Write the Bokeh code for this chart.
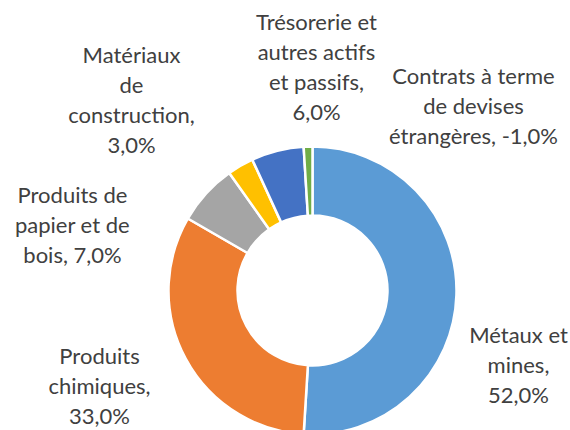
import math
from bokeh.plotting import figure
from bokeh.models import Range1d, ColumnDataSource
from bokeh.core.properties import value
from bokeh.embed import file_html
from bokeh.resources import INLINE

# ---- data ----
categories = [
    "Métaux et mines",
    "Produits chimiques",
    "Produits de papier et de bois",
    "Matériaux de construction",
    "Trésorerie et autres actifs et passifs",
    "Contrats à terme de devises étrangères",
]
shares = [52.0, 33.0, 7.0, 3.0, 6.0, -1.0]
colors = ["#5B9BD5", "#ED7D31", "#A5A5A5", "#FFC000", "#4472C4", "#70AD47"]
label_lines = [
    ["Métaux et", "mines,"],
    ["Produits", "chimiques,"],
    ["Produits de", "papier et de", "bois,"],
    ["Matériaux", "de", "construction,"],
    ["Trésorerie et", "autres actifs", "et passifs,"],
    ["Contrats à terme", "de devises", "étrangères,"],
]

W, H = 570, 430
CX, CY = 312, H - 290
R_OUT, R_IN = 144, 75

# label block centres (pixel coords from top-left)
label_pos = [(518, 364), (99, 385), (72, 224), (131, 99), (316, 66), (473, 105)]


def fmt(v):
    return f"{v:.1f}%".replace(".", ",")


def label_text(lines, v):
    last = lines[-1]
    if lines[0] in ("Contrats à terme", "Produits de"):
        body = lines[:-1] + [last + " " + fmt(v)]
    else:
        body = lines + [fmt(v)]
    return "\n".join(body)


mags = [abs(v) for v in shares]
total = sum(mags)
starts, ends = [], []
cum = 0.0
for m in mags:
    starts.append(math.pi / 2 - cum / total * 2 * math.pi)
    cum += m
    ends.append(math.pi / 2 - cum / total * 2 * math.pi)

src = ColumnDataSource(dict(
    x=[CX] * len(shares), y=[CY] * len(shares),
    start=starts, end=ends, color=colors, cat=categories,
))

p = figure(width=W, height=H, x_range=Range1d(0, W), y_range=Range1d(0, H),
           output_backend="svg", toolbar_location=None,
           x_axis_location=None, y_axis_location=None, min_border=0)
p.grid.visible = False
p.outline_line_color = None
p.background_fill_color = "white"
p.border_fill_color = "white"

p.annular_wedge(x="x", y="y", inner_radius=R_IN, outer_radius=R_OUT,
                start_angle="start", end_angle="end", direction="clock",
                fill_color="color", line_color="white", line_width=2.5, source=src)

texts = [label_text(l, v) for l, v in zip(label_lines, shares)]
lsrc = ColumnDataSource(dict(
    x=[pos[0] for pos in label_pos],
    y=[H - pos[1] for pos in label_pos],
    t=texts,
))
p.text(x="x", y="y", text="t", source=lsrc, text_align="center", text_baseline="middle",
       text_font=value("Lato"), text_font_size="22px", text_color="#404040",
       text_line_height=1.1)

open("out.html", "w").write(file_html(p, INLINE))
